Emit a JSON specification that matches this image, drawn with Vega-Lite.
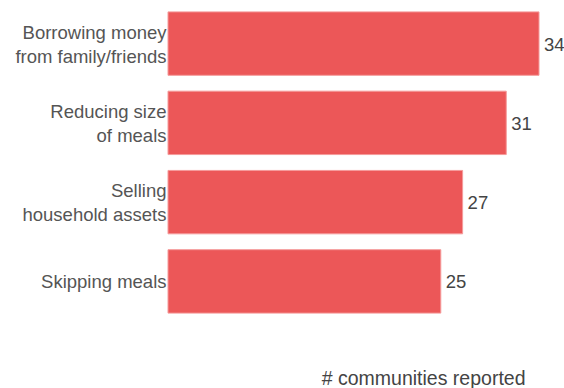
{
  "$schema": "https://vega.github.io/schema/vega-lite/v6.json",
  "width": 371,
  "height": 325,
  "autosize": "none",
  "padding": {"left": 168, "top": 0, "right": 25, "bottom": 63},
  "background": "white",
  "config": {"view": {"stroke": null}, "font": "Liberation Sans"},
  "data": {
    "values": [
      {"strategy": "Borrowing money|from family/friends", "count": 34},
      {"strategy": "Reducing size|of meals", "count": 31},
      {"strategy": "Selling|household assets", "count": 27},
      {"strategy": "Skipping meals", "count": 25}
    ]
  },
  "encoding": {
    "y": {
      "field": "strategy",
      "type": "nominal",
      "sort": null,
      "scale": {"paddingInner": 0.2, "paddingOuter": 0.15},
      "axis": {
        "title": null,
        "domain": false,
        "ticks": false,
        "labelPadding": 2,
        "labelFontSize": 18.5,
        "labelColor": "#555555",
        "labelLineHeight": 24,
        "labelLimit": 300,
        "labelOffset": {"condition": {"test": "indexof(datum.value, '|') >= 0", "value": -11}, "value": 1},
        "labelExpr": "split(datum.label, '|')"
      }
    },
    "x": {
      "field": "count",
      "type": "quantitative",
      "scale": {"domain": [0, 34], "nice": false},
      "axis": {
        "title": "# communities reported",
        "titleFontSize": 19.5,
        "titleFontWeight": "normal",
        "titleColor": "#444444",
        "titleAnchor": "end",
        "titleAlign": "right",
        "titleX": 357,
        "titleY": 59,
        "titleBaseline": "alphabetic",
        "labels": false,
        "ticks": false,
        "domain": false,
        "grid": false
      }
    }
  },
  "layer": [
    {
      "mark": {"type": "bar", "color": "#EC5758", "stroke": "#F59A9A", "strokeWidth": 1}
    },
    {
      "mark": {"type": "text", "align": "left", "dx": 5, "dy": 1, "fontSize": 18.5, "color": "#444444", "baseline": "middle"},
      "encoding": {"text": {"field": "count", "type": "quantitative"}}
    }
  ]
}
